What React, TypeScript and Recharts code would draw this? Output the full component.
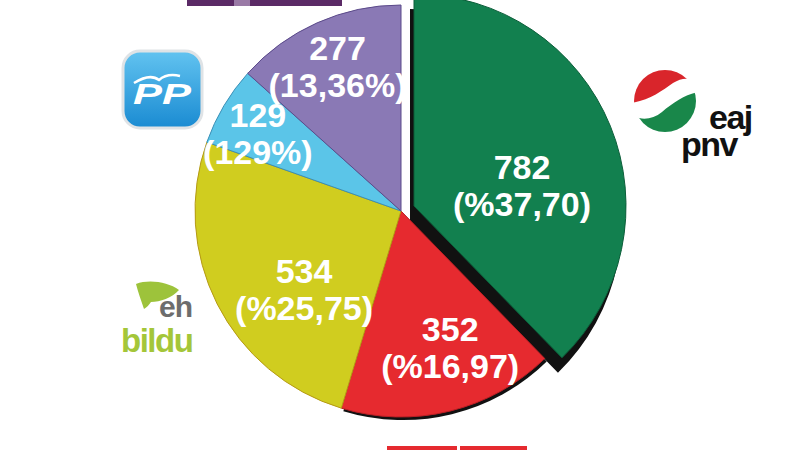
import { PieChart, Pie, Cell } from 'recharts'

// seats per party (clockwise from 12 o'clock)
const parties = ['EAJ-PNV', 'PSE-EE', 'EH Bildu', 'PP', 'Podemos']
const seats = [782, 352, 534, 129, 277]
const pctLabels = ['(%37,70)', '(%16,97)', '(%25,75)', '(129%)', '(13,36%)']
const colors = ['#12804f', '#e62a2f', '#d0cd1f', '#5bc5e8', '#8a79b5']
const edges = ['#0c5e3a', '#b81f24', '#b59a14', '#3a8fb6', '#5b4a8a']

const data = parties.map((name, i) => ({ name, value: seats[i] }))

// label placement: fraction of radius + small nudge
const labelRadius = [0.55, 0.68, 0.56, 0.78, 0.78]
const labelNudge = [[0, 35], [16, 12], [6, 38], [-5, 16], [2, 14]]

const FONT = '"Liberation Sans", Arial, sans-serif'
const RAD = Math.PI / 180

const renderLabel = (visible: number[]) => (props: any) => {
  const { cx, cy, midAngle, outerRadius, index, value } = props
  if (!visible.includes(index)) return <g />
  const r = outerRadius * labelRadius[index]
  const x = cx + r * Math.cos(-midAngle * RAD) + labelNudge[index][0]
  const y = cy + r * Math.sin(-midAngle * RAD) + labelNudge[index][1]
  return (
    <text
      textAnchor="middle"
      fill="#fff"
      fontFamily={FONT}
      fontWeight="bold"
      fontSize={34}
    >
      <tspan x={x} y={y - 18}>{value}</tspan>
      <tspan x={x} y={y + 19}>{pctLabels[index]}</tspan>
    </text>
  )
}

// one layer of the pie: only the listed slices are painted
function layerCells(visible: number[], fill?: string) {
  return data.map((_, i) =>
    visible.includes(i) ? (
      <Cell
        key={i}
        fill={fill ?? colors[i]}
        stroke={fill ? 'none' : edges[i]}
        strokeWidth={1}
      />
    ) : (
      <Cell key={i} fill="transparent" stroke="none" />
    ),
  )
}

function Logos() {
  return (
    <svg
      width={800}
      height={450}
      style={{ position: 'absolute', left: 0, top: 0, pointerEvents: 'none' }}
    >
      <defs>
        <linearGradient id="ppGrad" x1="0" y1="0" x2="0" y2="1">
          <stop offset="0%" stopColor="#62c3f0" />
          <stop offset="100%" stopColor="#1a8bd2" />
        </linearGradient>
        <clipPath id="pnvClip">
          <circle cx={665} cy={101} r={31} />
        </clipPath>
      </defs>

      {/* cut-off strips at the top and bottom edges */}
      <rect x={187} y={0} width={155} height={6} fill="#5b2a66" />
      <rect x={234} y={0} width={16} height={6} fill="#9a7aa6" />
      <rect x={387} y={446} width={70} height={4} fill="#e52a2f" />
      <rect x={460} y={446} width={67} height={4} fill="#e52a2f" />

      {/* PP */}
      <rect x={123} y={51} width={79} height={77} rx={17} fill="url(#ppGrad)" stroke="#dfe3e6" strokeWidth={3} />
      <path d="M134,83 Q150,73 159,80 Q167,73 180,76" fill="none" stroke="#fff" strokeWidth={2.5} />
      <text
        x={133}
        y={104}
        fill="#fff"
        fontFamily={FONT}
        fontWeight="bold"
        fontStyle="italic"
        fontSize={29}
        textLength={58}
        lengthAdjust="spacingAndGlyphs"
      >
        PP
      </text>

      {/* EAJ-PNV */}
      <g clipPath="url(#pnvClip)">
        <circle cx={665} cy={101} r={31} fill="#fff" />
        <path
          d="M630,103 L630,66 L700,66 L700,86 C694,78 684,76 673,83 C662,91 648,101 630,103 Z"
          fill="#d9252b"
        />
        <path
          d="M700,92 L700,136 L630,136 L630,114 C640,121 652,120 662,112 C674,102 688,93 700,92 Z"
          fill="#19874a"
        />
      </g>
      <text x={709} y={129} fill="#111" fontFamily={FONT} fontWeight="bold" fontSize={34} letterSpacing={-1.5}>
        eaj
      </text>
      <text x={681} y={156} fill="#111" fontFamily={FONT} fontWeight="bold" fontSize={34} letterSpacing={-1.5}>
        pnv
      </text>

      {/* EH Bildu */}
      <path
        d="M144,309 C141,300 138,292 136,284 C149,279 168,282 179,290 C172,298 160,302 151,302 C149,305 147,307 144,309 Z"
        fill="#9dc33b"
      />
      <text x={159} y={317} fill="#6d6d6d" fontFamily={FONT} fontWeight="bold" fontSize={30} letterSpacing={-1}>
        eh
      </text>
      <text x={121} y={352} fill="#a4c639" fontFamily={FONT} fontWeight="bold" fontSize={33} letterSpacing={-1.5}>
        bildu
      </text>
    </svg>
  )
}

export default function App() {
  const base = { dataKey: 'value', startAngle: 90, endAngle: -270, isAnimationActive: false, labelLine: false }
  return (
    <div style={{ position: 'absolute', left: 0, top: 0, width: 800, height: 450, background: '#fff', overflow: 'hidden' }}>
      <PieChart width={800} height={450} margin={{ top: 0, right: 0, bottom: 0, left: 0 }}>
        {/* drop shadows under the two right-hand slices */}
        <Pie {...base} data={data} cx={410} cy={221} outerRadius={212}>
          {layerCells([0], '#111')}
        </Pie>
        <Pie {...base} data={data} cx={403} cy={214} outerRadius={206}>
          {layerCells([1], '#111')}
        </Pie>
        {/* main body */}
        <Pie {...base} data={data} cx={401} cy={211} outerRadius={206} label={renderLabel([1, 2, 3, 4])}>
          {layerCells([1, 2, 3, 4])}
        </Pie>
        {/* pulled-out slice */}
        <Pie {...base} data={data} cx={414} cy={206} outerRadius={212} label={renderLabel([0])}>
          {layerCells([0])}
        </Pie>
      </PieChart>
      <Logos />
    </div>
  )
}
